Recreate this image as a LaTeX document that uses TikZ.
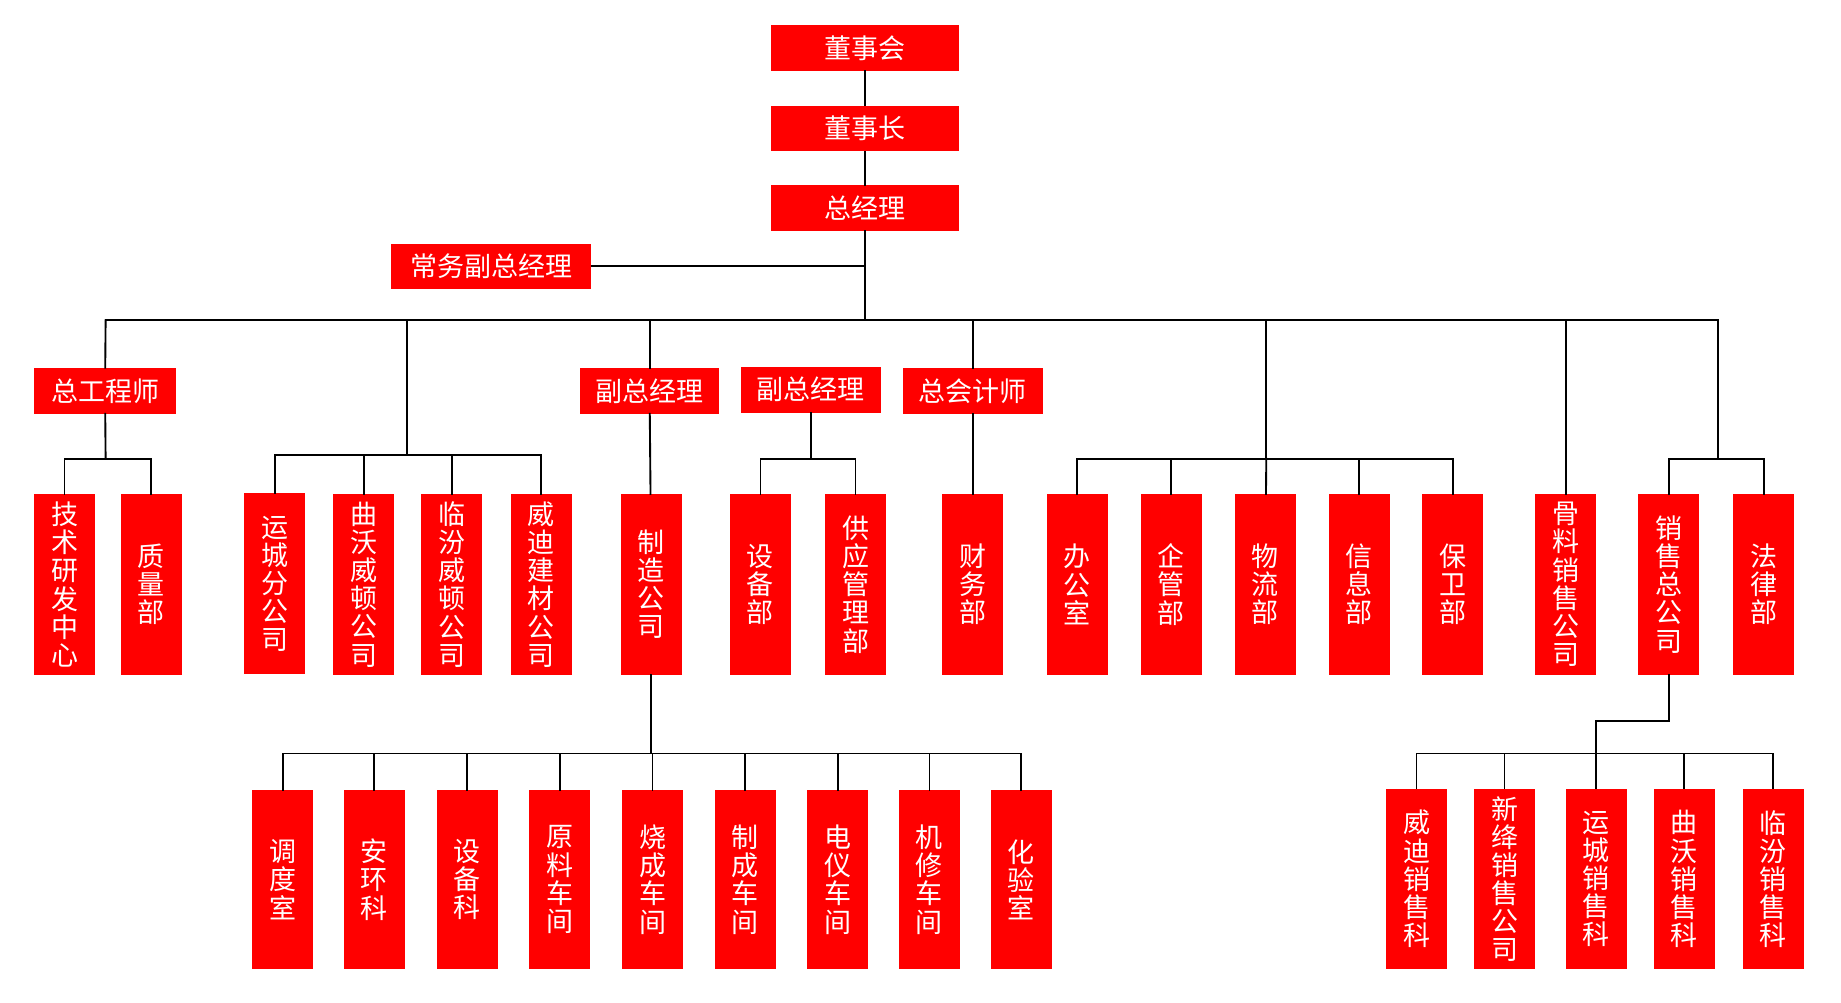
\documentclass[tikz,border=0pt]{standalone}
\usepackage{fontspec}
\setmainfont{Noto Sans CJK SC}
\begin{document}
\begin{tikzpicture}[x=1pt,y=-1pt,
  box/.style={fill=red, text=white, inner sep=0pt, font=\fontsize{23}{24}\selectfont},
  hb/.style={box, minimum height=39pt},
  vb/.style={box, minimum width=52pt, minimum height=154pt, align=center},
  ln/.style={line width=1.6pt, line cap=rect}]
\useasboundingbox (0,0) rectangle (1568.7,853.8);
% top
\node[hb, minimum width=160pt] (dsh) at (737,41) {董事会};
\node[hb, minimum width=160pt] (dsz) at (737,109.5) {董事长};
\node[hb, minimum width=160pt] (zjl) at (737,177.5) {总经理};
\node[hb, minimum width=171pt] (cw) at (418.5,227) {常务副总经理};
\node[hb, minimum width=121pt] (zgc) at (89.5,333) {总工程师};
\node[hb, minimum width=119pt] (fz1) at (553.5,333) {副总经理};
\node[hb, minimum width=119pt] (fz2) at (691,332) {副总经理};
\node[hb, minimum width=119pt] (zkj) at (829,333) {总会计师};
% level 3
\node[vb] (js) at (55,498) {技\\术\\研\\发\\中\\心};
\node[vb] (zl) at (129,498) {质\\量\\部};
\node[vb] (yc) at (234,497.5) {运\\城\\分\\公\\司};
\node[vb] (qw) at (310,498) {曲\\沃\\威\\顿\\公\\司};
\node[vb] (lf) at (385,498) {临\\汾\\威\\顿\\公\\司};
\node[vb] (wd) at (461,498) {威\\迪\\建\\材\\公\\司};
\node[vb] (zz) at (555,498) {制\\造\\公\\司};
\node[vb] (sb) at (648,498) {设\\备\\部};
\node[vb] (gy) at (729,498) {供\\应\\管\\理\\部};
\node[vb] (cwb) at (829,498) {财\\务\\部};
\node[vb] (bgs) at (918,498) {办\\公\\室};
\node[vb] (qg) at (998,498) {企\\管\\部};
\node[vb] (wl) at (1078,498) {物\\流\\部};
\node[vb] (xx) at (1158,498) {信\\息\\部};
\node[vb] (bw) at (1238,498) {保\\卫\\部};
\node[vb] (gl) at (1334,498) {骨\\料\\销\\售\\公\\司};
\node[vb] (xs) at (1422,498) {销\\售\\总\\公\\司};
\node[vb] (fl) at (1503,498) {法\\律\\部};
% level 4 left
\node[vb, minimum height=153pt] (dd) at (241,749.5) {调\\度\\室};
\node[vb, minimum height=153pt] (ah) at (319,749.5) {安\\环\\科};
\node[vb, minimum height=153pt] (sbk) at (398,749.5) {设\\备\\科};
\node[vb, minimum height=153pt] (yl) at (477,749.5) {原\\料\\车\\间};
\node[vb, minimum height=153pt] (sc) at (556,749.5) {烧\\成\\车\\间};
\node[vb, minimum height=153pt] (zc) at (635,749.5) {制\\成\\车\\间};
\node[vb, minimum height=153pt] (dy) at (714,749.5) {电\\仪\\车\\间};
\node[vb, minimum height=153pt] (jx) at (792,749.5) {机\\修\\车\\间};
\node[vb, minimum height=153pt] (hy) at (870,749.5) {化\\验\\室};
% level 4 right
\node[vb, minimum height=154pt] (wdx) at (1207,749) {威\\迪\\销\\售\\科};
\node[vb, minimum height=154pt] (xj) at (1282,749) {新\\绛\\销\\售\\公\\司};
\node[vb, minimum height=154pt] (ycx) at (1360,749) {运\\城\\销\\售\\科};
\node[vb, minimum height=154pt] (qwx) at (1435,749) {曲\\沃\\销\\售\\科};
\node[vb, minimum height=154pt] (lfx) at (1511,749) {临\\汾\\销\\售\\科};
% coordinates
\coordinate (cwj) at (737,227);
\coordinate (busL) at (90,273);
\coordinate (busR) at (1464,273);
\coordinate (busM) at (737,273);
\coordinate (b2) at (347,273);
\coordinate (b2d) at (347,388);
\coordinate (b5) at (1079,273);
\coordinate (b5d) at (1079,391);
\coordinate (b7d) at (1464,391);
\coordinate (zgcd) at (90,391);
\coordinate (fz2d) at (691,391);
\coordinate (zzd) at (555,642);
\coordinate (xsd) at (1422,614);
\coordinate (xsm) at (1360,614);
\coordinate (xsb) at (1360,642);
% connectors
\draw[ln] (dsh) -- (dsz);
\draw[ln] (dsz) -- (zjl);
\draw[ln] (zjl) -- (busM);
\draw[ln] (cw) -- (cwj);
\draw[ln] (busL) -- (busR);
\draw[ln] (busL) -- (zgc);
\draw[ln] (b2) -- (b2d);
\draw[ln] (fz1.north |- busL) -- (fz1);
\draw[ln] (zkj.north |- busL) -- (zkj);
\draw[ln] (b5) -- (b5d);
\draw[ln] (gl.north |- busL) -- (gl);
\draw[ln] (busR) -- (b7d);
% 总工程师
\draw[ln] (zgc) -- (zgcd);
\draw[ln] (js) |- (zgcd) -| (zl);
% companies
\draw[ln] (yc) |- (b2d) -| (wd);
\draw[ln] (qw.north |- b2d) -- (qw);
\draw[ln] (lf.north |- b2d) -- (lf);
% 副总经理
\draw[ln] (fz1) -- (zz);
\draw[ln] (fz2) -- (fz2d);
\draw[ln] (sb) |- (fz2d) -| (gy);
\draw[ln] (zkj) -- (cwb);
% depts
\draw[ln] (bgs) |- (b5d) -| (bw);
\draw[ln] (qg.north |- b5d) -- (qg);
\draw[ln] (b5d) -- (wl);
\draw[ln] (xx.north |- b5d) -- (xx);
\draw[ln] (xs) |- (b7d) -| (fl);
% 制造公司
\draw[ln] (zz) -- (zzd);
\draw[ln] (dd) |- (zzd) -| (hy);
\draw[ln] (ah.north |- zzd) -- (ah);
\draw[ln] (sbk.north |- zzd) -- (sbk);
\draw[ln] (yl.north |- zzd) -- (yl);
\draw[ln] (sc.north |- zzd) -- (sc);
\draw[ln] (zc.north |- zzd) -- (zc);
\draw[ln] (dy.north |- zzd) -- (dy);
\draw[ln] (jx.north |- zzd) -- (jx);
% 销售总公司
\draw[ln] (xs) -- (xsd) -- (xsm) -- (xsb);
\draw[ln] (wdx) |- (xsb) -| (lfx);
\draw[ln] (xj.north |- xsb) -- (xj);
\draw[ln] (xsb) -- (ycx);
\draw[ln] (qwx.north |- xsb) -- (qwx);
\end{tikzpicture}
\end{document}
